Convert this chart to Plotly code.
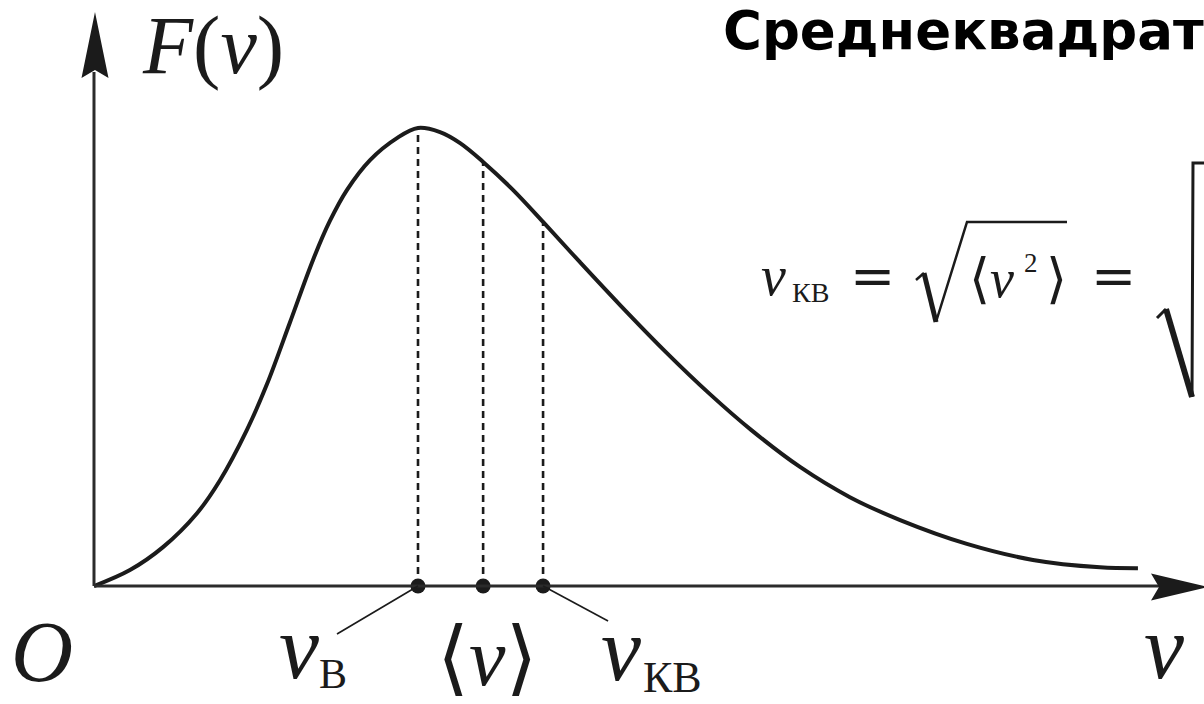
import plotly.graph_objects as go

W, H = 1204, 704

# Speed distribution F(v), in reduced units (v / v_B, F / F_max)
v_curve = [0.000, 0.111, 0.213, 0.318, 0.389, 0.472, 0.534, 0.605, 0.676, 0.728,
           0.781, 0.852, 0.935, 1.000, 1.068, 1.130, 1.201, 1.293, 1.386, 1.500,
           1.623, 1.762, 1.901, 2.028, 2.179, 2.333, 2.488, 2.694, 2.898, 3.105, 3.222]
F_curve = [0.000, 0.035, 0.085, 0.159, 0.231, 0.341, 0.441, 0.576, 0.712, 0.797,
           0.865, 0.930, 0.978, 1.000, 0.991, 0.967, 0.926, 0.865, 0.795, 0.707,
           0.614, 0.513, 0.419, 0.341, 0.260, 0.194, 0.144, 0.092, 0.057, 0.041, 0.039]

# characteristic speeds: most probable, mean, root-mean-square
speed_values = [1.000, 1.201, 1.386]
speed_heights = [1.000, 0.926, 0.795]

X_RANGE = [-0.2901, 3.4259]
Y_RANGE = [-0.2576, 1.2795]

INK = "#1b1b1b"
AXIS = "#2b2b2b"
SERIF = "Liberation Serif, DejaVu Serif, serif"
SANS_BOLD = "DejaVu Sans, Liberation Sans, sans-serif"


def px(x):
    return x / W


def py(y):
    return 1 - y / H


def dx(pixels):
    return pixels * (X_RANGE[1] - X_RANGE[0]) / W


def dy(pixels):
    return pixels * (Y_RANGE[1] - Y_RANGE[0]) / H


fig = go.Figure()

# dashed drop lines from the curve to the axis
for v, f in zip(speed_values, speed_heights):
    fig.add_trace(go.Scatter(x=[v, v], y=[0, f], mode="lines",
                             line=dict(color=INK, width=2.6, dash="7px,5px"),
                             hoverinfo="skip", showlegend=False))

# distribution curve
fig.add_trace(go.Scatter(x=v_curve, y=F_curve, mode="lines",
                         line=dict(color=INK, width=4, shape="spline", smoothing=1.0),
                         hoverinfo="skip", showlegend=False))

shapes = []
annotations = []

# axes with arrowheads
shapes.append(dict(type="line", xref="x", yref="y", x0=0, y0=0, x1=dx(1160 - 94), y1=0,
                   line=dict(color=AXIS, width=3)))
shapes.append(dict(type="line", xref="x", yref="y", x0=0, y0=0, x1=0, y1=dy(586 - 72),
                   line=dict(color=AXIS, width=3)))


def poly(points, width=0, closed=True):
    d = "M " + " L ".join(f"{px(a):.5f},{py(b):.5f}" for a, b in points)
    if closed:
        d += " Z"
    return dict(type="path", xref="paper", yref="paper", path=d,
                fillcolor=INK if closed else None,
                line=dict(color=INK, width=width))


shapes.append(poly([(95, 12), (108.5, 78), (95, 70), (81.5, 78)]))
shapes.append(poly([(1208, 587), (1151, 600.5), (1159, 587), (1151, 573.5)]))

# leader lines from the dots to their labels
shapes.append(dict(type="line", xref="x", yref="y",
                   x0=speed_values[0], y0=0, x1=speed_values[0] + dx(-81), y1=dy(-48),
                   line=dict(color=INK, width=1.6)))
shapes.append(dict(type="line", xref="x", yref="y",
                   x0=speed_values[2], y0=0, x1=speed_values[2] + dx(65), y1=dy(-35),
                   line=dict(color=INK, width=1.6)))

# dots on the axis
fig.add_trace(go.Scatter(x=speed_values, y=[0] * len(speed_values), mode="markers",
                         marker=dict(color=INK, size=15, line=dict(width=0)),
                         hoverinfo="skip", showlegend=False))


def text_at(s, left, base, size, family=SERIF, k=0.3375, color=INK, weight="normal"):
    annotations.append(dict(text=s, x=px(left), y=py(base - k * size),
                            xref="paper", yref="paper", xanchor="left", yanchor="middle",
                            showarrow=False, borderpad=0,
                            font=dict(family=family, size=size, color=color, weight=weight)))


# axis and point labels
text_at("<i>F</i>(<i>v</i>)", 141, 73, 82)
text_at("<i>O</i>", 10, 681, 86)
text_at("<i>v</i>", 278, 678, 90)
text_at("В", 318, 688, 42)
text_at("⟨<i>v</i>⟩", 436, 685, 82)
text_at("<i>v</i>", 600, 680, 90)
text_at("КВ", 642, 692, 44)
text_at("<i>v</i>", 1143, 678, 90)

# heading
text_at("Среднеквадратичная скорость", 722, 49, 53, family=SANS_BOLD, k=0.346,
        color="#000000", weight="bold")

# formula  v_кв = sqrt(<v^2>) = sqrt(...)
text_at("<i>v</i>", 760, 295, 56)
text_at("КВ", 791, 302, 28)
text_at("=", 849, 295, 54, family="DejaVu Serif")
text_at("⟨<i>v</i>", 968, 297, 54)
text_at("2", 1023, 272, 27)
text_at("⟩", 1045, 297, 54)
text_at("=", 1090, 295, 54, family="DejaVu Serif")

# radical signs
shapes.append(poly([(916, 280), (924, 273)], width=2.5, closed=False))
shapes.append(poly([(924, 273), (936, 322)], width=5, closed=False))
shapes.append(poly([(936, 322), (967, 222), (1067, 222)], width=2.5, closed=False))
shapes.append(poly([(1157, 318), (1166, 309)], width=3, closed=False))
shapes.append(poly([(1166, 309), (1192, 397)], width=6, closed=False))
shapes.append(poly([(1192, 397), (1193, 163), (1210, 163)], width=3, closed=False))

fig.update_layout(
    width=W, height=H,
    margin=dict(l=0, r=0, t=0, b=0),
    paper_bgcolor="white", plot_bgcolor="white",
    xaxis=dict(range=X_RANGE, visible=False, fixedrange=True),
    yaxis=dict(range=Y_RANGE, visible=False, fixedrange=True),
    shapes=shapes, annotations=annotations,
    showlegend=False,
)

fig.write_html("out.html", config={"displayModeBar": False, "staticPlot": True})
